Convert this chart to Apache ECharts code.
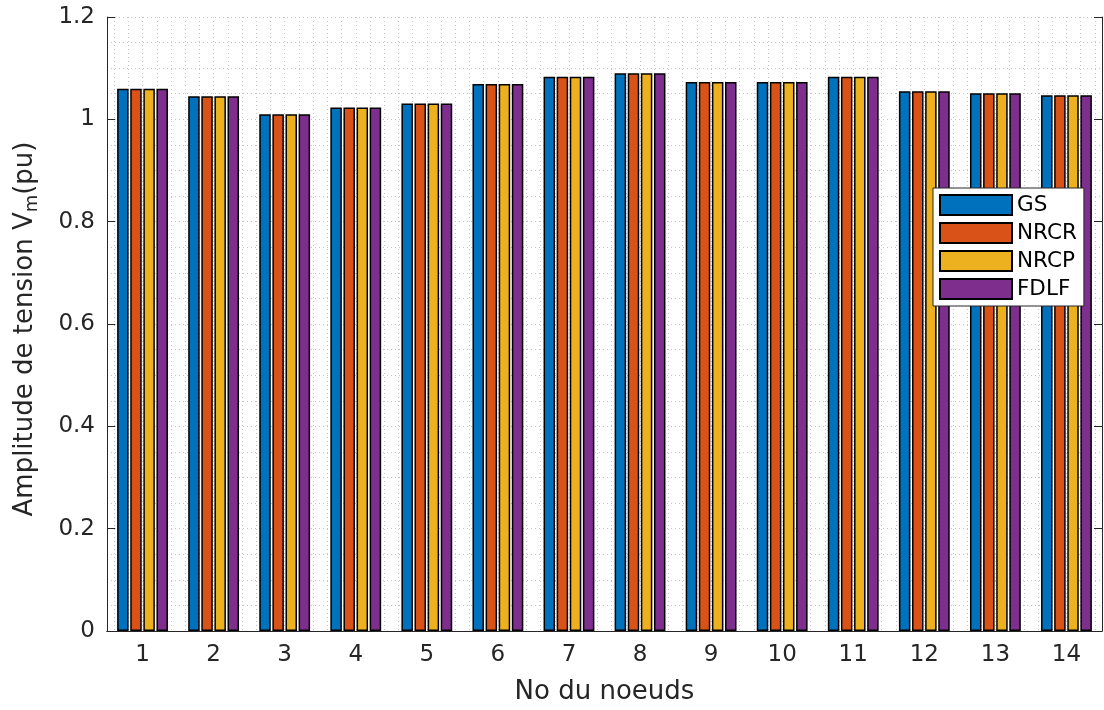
<!DOCTYPE html>
<html>
<head>
<meta charset="utf-8">
<script src="https://cdn.jsdelivr.net/npm/echarts@6/dist/echarts.min.js"></script>
<style>html,body{margin:0;padding:0;background:#fff;}#c{width:1104px;height:710px;}</style>
</head>
<body>
<div id="c"></div>
<script>
const categories = ['1','2','3','4','5','6','7','8','9','10','11','12','13','14'];
const seriesNames = ['GS','NRCR','NRCP','FDLF'];
const gs   = [1.06,1.045,1.01,1.023,1.031,1.069,1.083,1.09,1.073,1.073,1.083,1.055,1.051,1.047];
const nrcr = [1.06,1.045,1.01,1.023,1.031,1.069,1.083,1.09,1.073,1.073,1.083,1.055,1.051,1.047];
const nrcp = [1.06,1.045,1.01,1.023,1.031,1.069,1.083,1.09,1.073,1.073,1.083,1.055,1.051,1.047];
const fdlf = [1.06,1.045,1.01,1.023,1.031,1.069,1.083,1.09,1.073,1.073,1.083,1.055,1.051,1.047];
const colors = ['#0072BD','#D95319','#EDB120','#7E2F8E'];

const FONT = 'DejaVu Sans';
const AX = '#262626';
const GRIDC = '#c4c4c4';
const L = 107, R = 2, T = 17, B = 78;
const W = 1104 - L - R;
const off = W * 0.1 / categories.length;

const chart = echarts.init(document.getElementById('c'));
const values = [gs, nrcr, nrcp, fdlf];
chart.setOption({
  animation: false,
  backgroundColor: '#fff',
  textStyle: { fontFamily: FONT },
  grid: [
    { left: L, right: R, top: T, bottom: B },
    { left: L + off, right: R + off, top: T, bottom: B }
  ],
  legend: {
    orient: 'vertical',
    left: 933, top: 188,
    padding: [6, 7, 6, 6],
    itemWidth: 72, itemHeight: 20, itemGap: 6,
    backgroundColor: '#fff',
    borderColor: AX, borderWidth: 1,
    icon: 'rect',
    textStyle: { fontSize: 21.5, color: '#000', fontFamily: FONT },
    data: seriesNames
  },
  xAxis: [
    {
      type: 'category', data: categories, gridIndex: 0, position: 'bottom',
      axisLine: { lineStyle: { color: AX, width: 1 } },
      axisTick: { inside: true, length: 8, alignWithLabel: true, lineStyle: { color: AX } },
      axisLabel: { fontSize: 23, color: AX, margin: 13, fontFamily: FONT },
      name: 'No du noeuds', nameLocation: 'middle', nameGap: 48,
      nameTextStyle: { fontSize: 26, color: AX, fontFamily: FONT },
      splitLine: { show: false }
    },
    {
      type: 'category', data: categories, gridIndex: 0, position: 'top',
      axisLine: { lineStyle: { color: AX, width: 1 } },
      axisTick: { inside: true, length: 8, alignWithLabel: true, lineStyle: { color: AX } },
      axisLabel: { show: false },
      splitLine: { show: false }
    },
    {
      type: 'value', gridIndex: 1, min: 0.6, max: 14.4, interval: 0.2,
      axisLine: { show: false }, axisTick: { show: false }, axisLabel: { show: false },
      splitLine: { show: true, lineStyle: { color: GRIDC, type: [1, 3], width: 1 } }
    }
  ],
  yAxis: [
    {
      type: 'value', gridIndex: 0, min: 0, max: 1.2, interval: 0.2, position: 'left',
      axisLine: { show: true, lineStyle: { color: AX, width: 1 } },
      axisTick: { show: true, inside: true, length: 8, lineStyle: { color: AX } },
      axisLabel: { fontSize: 23, color: AX, margin: 12, fontFamily: FONT },
      splitLine: { show: true, lineStyle: { color: GRIDC, type: [1, 3], width: 1 } },
      minorTick: { show: false, splitNumber: 4 },
      minorSplitLine: { show: true, lineStyle: { color: GRIDC, type: [1, 3], width: 1 } },
      name: 'Amplitude de tension V{sub|m}(pu)', nameLocation: 'middle', nameGap: 66, nameRotate: 90,
      nameTextStyle: { fontSize: 26, color: AX, fontFamily: FONT, padding: [0, 10, 0, 0],
        rich: { sub: { fontSize: 18, color: AX, fontFamily: FONT, verticalAlign: 'bottom', padding: [14, 0, 0, 0] } } }
    },
    {
      type: 'value', gridIndex: 0, min: 0, max: 1.2, interval: 0.2, position: 'right',
      axisLine: { show: true, lineStyle: { color: AX, width: 1 } },
      axisTick: { show: true, inside: true, length: 8, lineStyle: { color: AX } },
      axisLabel: { show: false },
      splitLine: { show: false }
    },
    {
      type: 'value', gridIndex: 1, min: 0, max: 1.2,
      axisLine: { show: false }, axisTick: { show: false }, axisLabel: { show: false },
      splitLine: { show: false }
    }
  ],
  series: seriesNames.map((n, i) => ({
    name: n, type: 'bar', xAxisIndex: 0, yAxisIndex: 0,
    data: values[i],
    barWidth: 11.5, barGap: '14%',
    itemStyle: { color: colors[i], borderColor: '#000', borderWidth: 1.5 }
  }))
});
</script>
</body>
</html>
